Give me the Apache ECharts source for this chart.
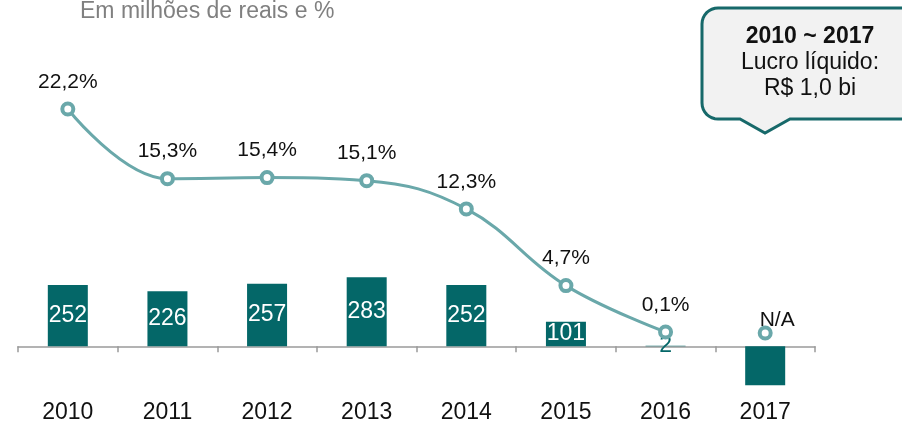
<!DOCTYPE html>
<html>
<head>
<meta charset="utf-8">
<script src="https://cdn.jsdelivr.net/npm/echarts@6/dist/echarts.min.js"></script>
<style>
  html, body { margin: 0; padding: 0; background: #fff; }
  #chart { width: 902px; height: 422px; }
</style>
</head>
<body>
<div id="chart"></div>
<script>
// dados
var years = ['2010', '2011', '2012', '2013', '2014', '2015', '2016', '2017'];
var lucro = [252, 226, 257, 283, 252, 101, 2, -160];      // em milhões de R$
var margem = [22.2, 15.3, 15.4, 15.1, 12.3, 4.7, 0.1, null]; // %
var naValue = 0; // 2017 sem margem: marcador em zero com "N/A"

var FONT = 'Liberation Sans, Arial, sans-serif';
var barColor = '#046768';
var lineColor = '#6aa8aa';

var chart = echarts.init(document.getElementById('chart'));

var barData = lucro.map(function (v, i) {
  var item = { value: v };
  if (v < 0) item.label = { show: false };
  if (Math.abs(v) < 10) item.label = { color: barColor };
  return item;
});

var lineData = margem.map(function (v) { return v == null ? '-' : v; });
var naData = margem.map(function (v) { return v == null ? naValue : '-'; });

// balão (retângulo com cantos arredondados + ponta para baixo)
function arc(cx, cy, r, a0, a1) {
  var pts = [];
  for (var k = 0; k <= 8; k++) {
    var a = a0 + (a1 - a0) * k / 8;
    pts.push([cx + r * Math.cos(a), cy + r * Math.sin(a)]);
  }
  return pts;
}
var bx = 702, by = 8, bw = 215, bh = 111, br = 16;
var balloon = []
  .concat(arc(bx + br, by + br, br, Math.PI, Math.PI * 1.5))
  .concat([[bx + bw, by], [bx + bw, by + bh], [790, by + bh], [765, 133], [740, by + bh]])
  .concat(arc(bx + br, by + bh - br, br, Math.PI / 2, Math.PI));

var pointStyle = { color: '#fff', borderWidth: 4, borderColor: lineColor };

chart.setOption({
  animation: false,
  textStyle: { fontFamily: FONT },
  title: {
    text: 'Em milhões de reais e %',
    left: 80,
    top: 0,
    padding: 0,
    textStyle: { fontFamily: FONT, fontSize: 23, fontWeight: 'normal', color: '#808080' }
  },
  grid: { left: 18, right: 87, top: 54, bottom: 27, containLabel: false, outerBoundsMode: 'none' },
  xAxis: [
    {
      // linha do zero com marcas
      type: 'category',
      data: years,
      axisLine: { show: true, onZero: true, onZeroAxisIndex: 0, lineStyle: { color: '#9a9a9a', width: 1.5 } },
      axisTick: { show: true, length: 6, lineStyle: { color: '#9a9a9a', width: 1.5 } },
      axisLabel: { show: false }
    },
    {
      // anos no rodapé
      type: 'category',
      data: years,
      position: 'bottom',
      axisLine: { show: false, onZero: false },
      axisTick: { show: false },
      axisLabel: { margin: 7, fontSize: 23, lineHeight: 22, color: '#111', fontFamily: FONT }
    }
  ],
  yAxis: [
    { type: 'value', min: -200, max: 1200, show: false },
    { type: 'value', min: -6.14, max: 27.65, show: false }
  ],
  series: [
    {
      type: 'bar',
      data: barData,
      barWidth: 40,
      itemStyle: { color: barColor },
      label: {
        show: true,
        position: 'inside',
        color: '#fff',
        fontSize: 23,
        fontFamily: FONT
      },
      z: 2
    },
    {
      type: 'line',
      yAxisIndex: 1,
      data: lineData,
      smooth: 0.4,
      symbol: 'circle',
      symbolSize: 11,
      lineStyle: { color: lineColor, width: 3 },
      itemStyle: pointStyle,
      label: {
        show: true,
        position: 'top',
        distance: 9,
        fontSize: 21,
        color: '#111',
        fontFamily: FONT,
        formatter: function (p) { return String(p.value).replace('.', ',') + '%'; }
      },
      z: 5
    },
    {
      type: 'line',
      yAxisIndex: 1,
      data: naData,
      symbol: 'circle',
      symbolSize: 11,
      showAllSymbol: true,
      lineStyle: { color: lineColor, width: 3 },
      itemStyle: pointStyle,
      label: {
        show: true,
        position: 'top',
        distance: 0,
        offset: [12, 5],
        fontSize: 21,
        color: '#111',
        fontFamily: FONT,
        formatter: 'N/A'
      },
      z: 5
    }
  ],
  graphic: [
    {
      type: 'polygon',
      shape: { points: balloon },
      style: { fill: '#f2f2f2', stroke: '#17696a', lineWidth: 3 },
      z: 10
    },
    {
      type: 'text',
      x: 810, y: 37,
      style: { text: '2010 ~ 2017', font: 'bold 23px ' + FONT, fill: '#111', align: 'center', verticalAlign: 'middle' },
      z: 11
    },
    {
      type: 'text',
      x: 810, y: 63,
      style: { text: 'Lucro líquido:', font: '23px ' + FONT, fill: '#111', align: 'center', verticalAlign: 'middle' },
      z: 11
    },
    {
      type: 'text',
      x: 810, y: 89,
      style: { text: 'R$ 1,0 bi', font: '23px ' + FONT, fill: '#111', align: 'center', verticalAlign: 'middle' },
      z: 11
    }
  ]
});
</script>
</body>
</html>
